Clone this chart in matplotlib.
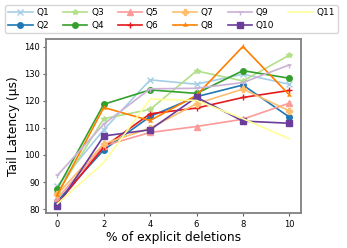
import matplotlib
matplotlib.use('Agg')
import matplotlib.pyplot as plt

x = [0, 2, 4, 6, 8, 10]
q1 = [88.6, 109.3, 127.7, 126.1, 129.8, 126.1]
q2 = [83.0, 101.9, 114.2, 121.5, 125.8, 114.0]
q3 = [86.0, 113.4, 116.8, 131.0, 127.3, 136.8]
q4 = [87.6, 118.7, 124.0, 122.7, 131.1, 128.3]
q5 = [84.0, 103.4, 108.3, 110.5, 113.2, 119.1]
q6 = [82.0, 102.9, 115.2, 117.3, 121.2, 123.8]
q7 = [85.5, 104.1, 109.9, 118.9, 124.3, 116.3]
q8 = [85.3, 117.5, 112.7, 122.0, 140.0, 122.2]
q9 = [92.5, 111.4, 124.4, 124.6, 126.7, 133.2]
q10 = [81.3, 107.0, 109.3, 121.3, 112.5, 111.7]
q11 = [82.0, 97.2, 120.6, 120.1, 113.4, 106.0]

series = [q1, q2, q3, q4, q5, q6, q7, q8, q9, q10, q11]
labels = ['Q%d' % (i + 1) for i in range(11)]
markers = ['x', 'o', '*', 'o', '^', '+', 'P', '2', '1', 's', None]
colors = plt.cm.Paired.colors

fig = plt.figure(figsize=(3.47, 2.48), dpi=100)
ax = fig.add_axes([0.132, 0.140, 0.735, 0.702])
for i, ys in enumerate(series):
    ax.plot(x, ys, marker=markers[i], color=colors[i], label=labels[i],
            markersize=4, linewidth=1.2)

ax.set_xlim(-0.5, 10.5)
ax.set_ylim(78.5, 142.7)
ax.set_xticks([0, 2, 4, 6, 8, 10])
ax.set_yticks([80, 90, 100, 110, 120, 130, 140])
ax.tick_params(labelsize=6, length=2.5, width=0.8, color='#606060', pad=2)
ax.set_xlabel('% of explicit deletions', fontsize=8.8, labelpad=2)
ax.set_ylabel('Tail Latency (µs)', fontsize=8.8, labelpad=3)
for s in ax.spines.values():
    s.set_color('#808080')
    s.set_linewidth(1.3)

fig.legend(loc='upper left', bbox_to_anchor=(0.0144, 0.98, 0.96, 0.0),
           mode='expand', ncol=6, fontsize=6.5, handlelength=2.7,
           handletextpad=0.4, borderpad=0.35, labelspacing=0.4,
           borderaxespad=0.0, fancybox=True, edgecolor='#cccccc')
fig.savefig('out.png', dpi=100)
